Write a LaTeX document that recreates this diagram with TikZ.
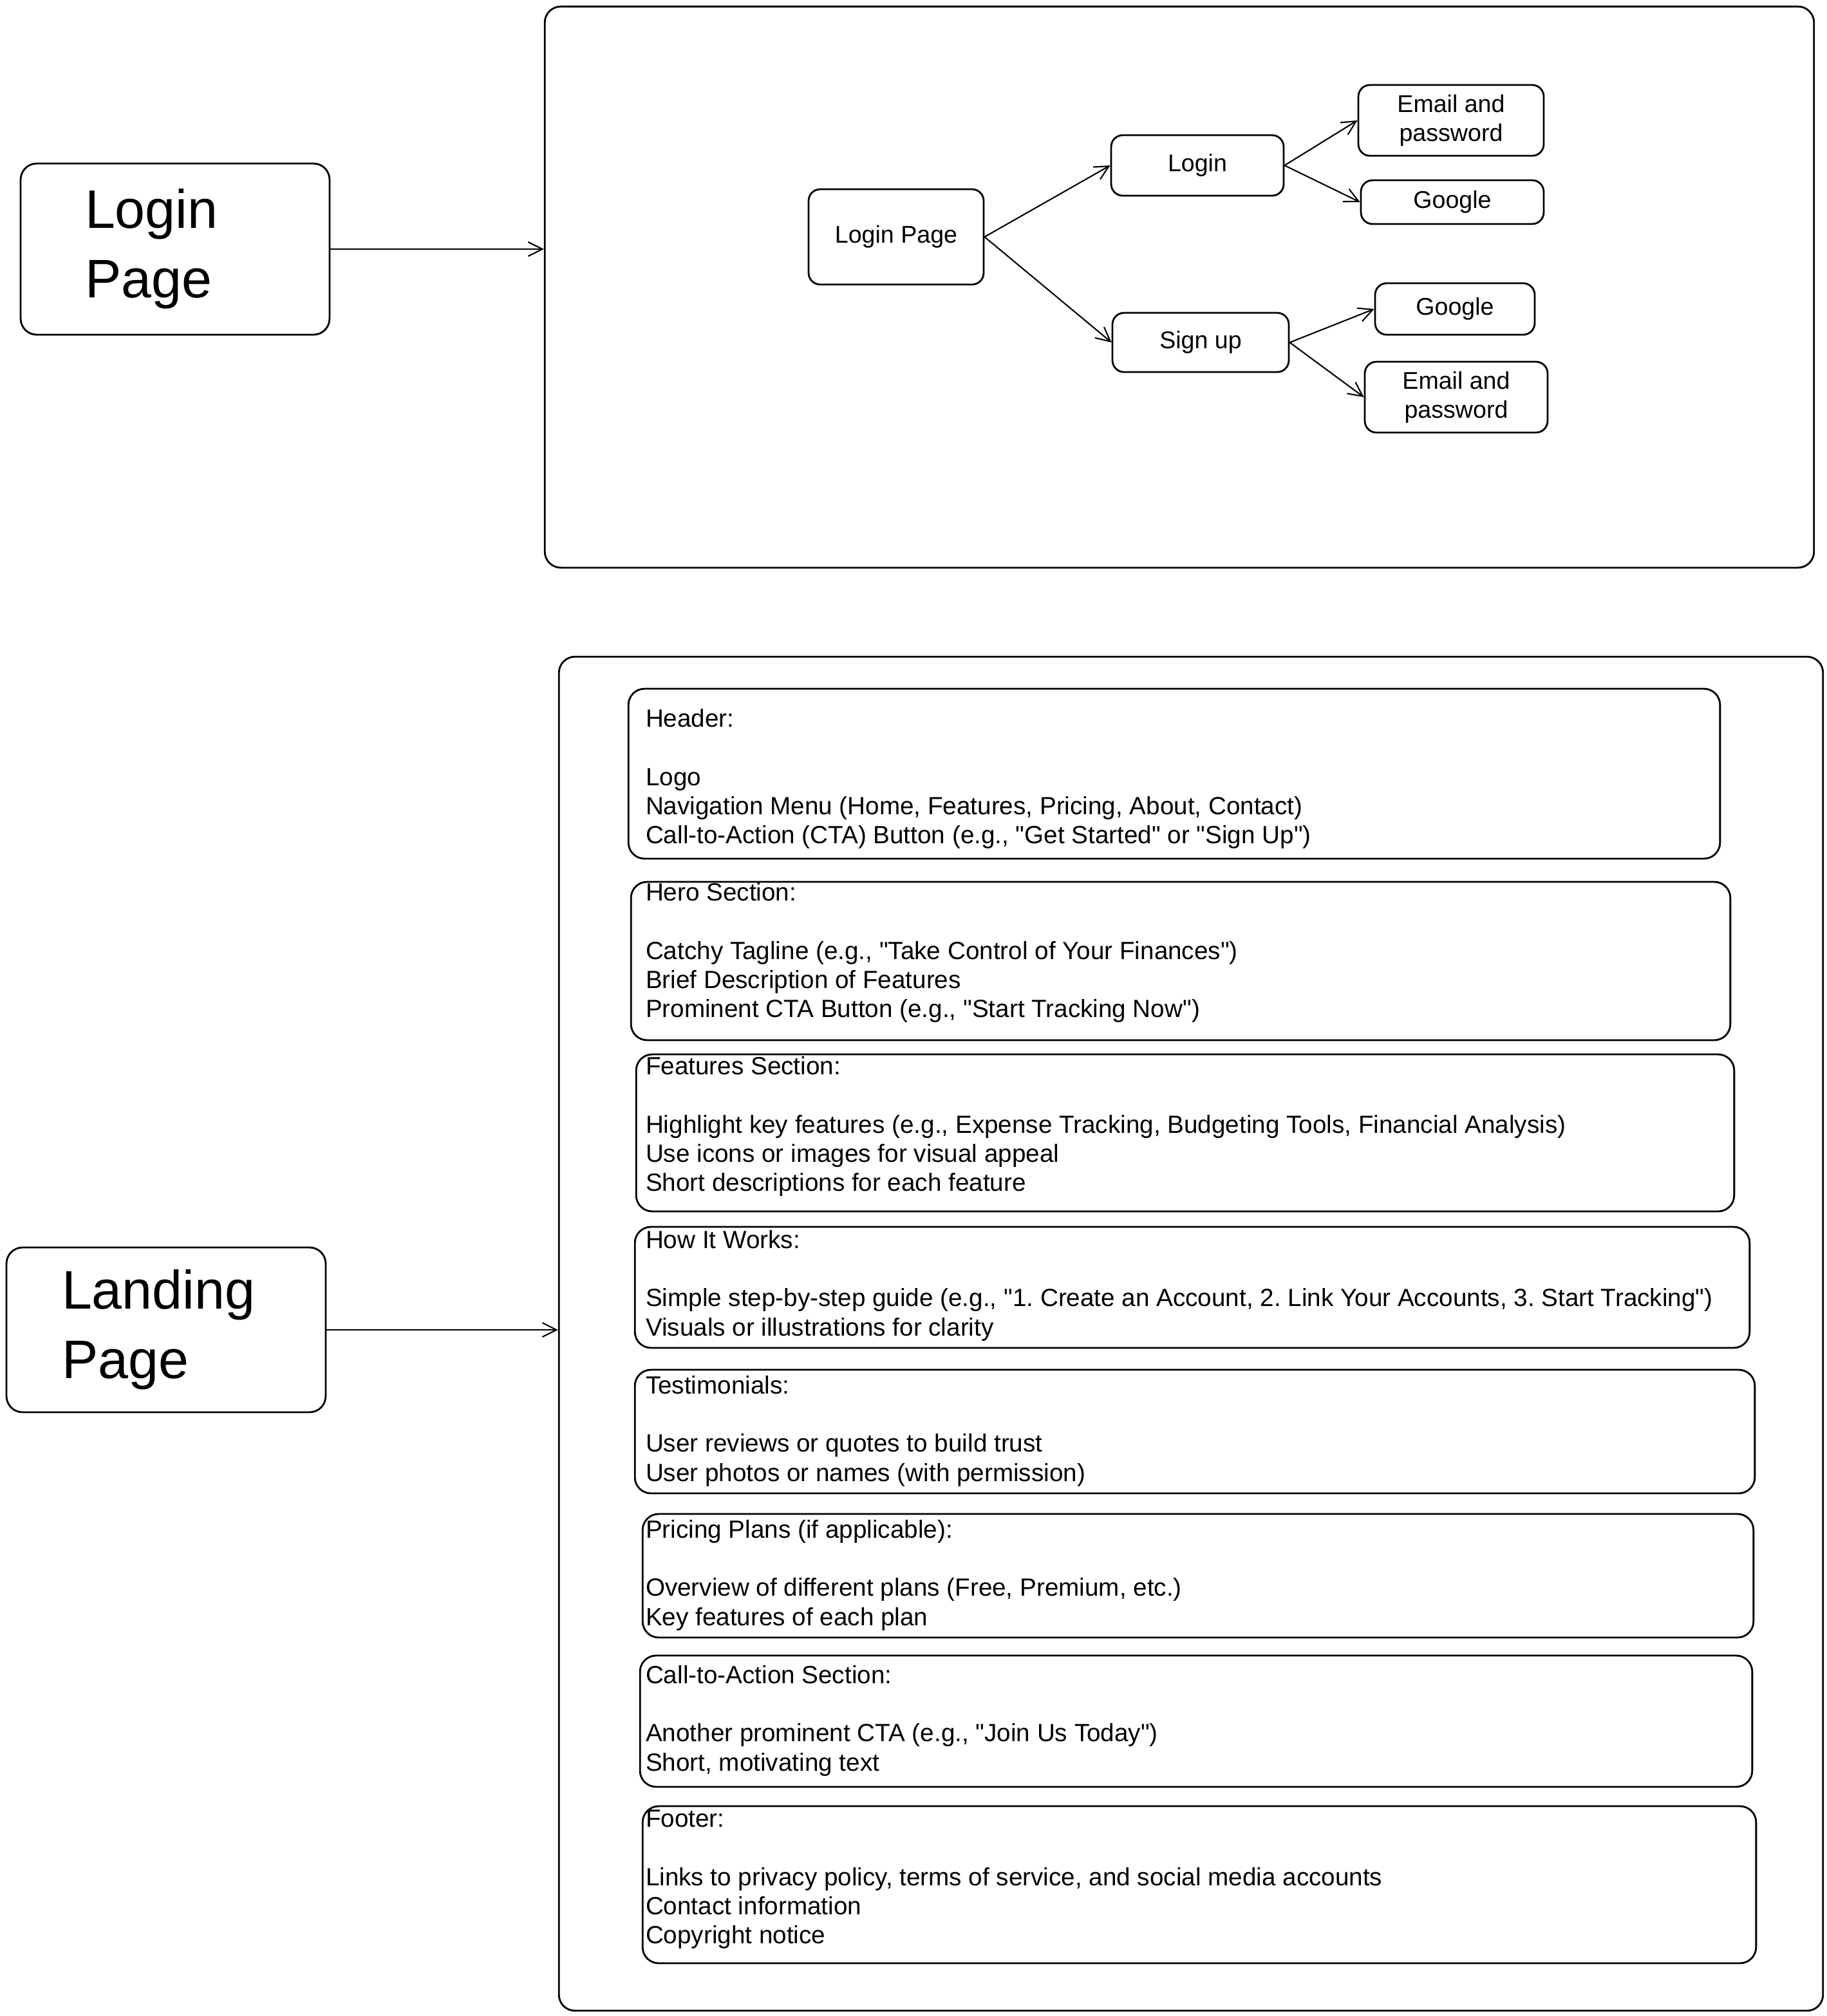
\documentclass[tikz,border=0pt]{standalone}
\usepackage{fontspec}
\setmainfont{Liberation Sans}[Ligatures=TeXOff]
\frenchspacing
\usetikzlibrary{arrows.meta}

\begin{document}
\begin{tikzpicture}[x=0.02cm, y=-0.02cm, font=\fontsize{10.7}{12.9}\selectfont, line width=0.6pt, -{Straight Barb[length=2.2mm,width=2.2mm]},
	box/.style={draw, line width=0.8pt, rounded corners=0.18cm, inner sep=0pt, align=center},
	frame/.style={draw, line width=0.8pt, rounded corners=0.25cm, inner sep=0pt},
	bigbox/.style={draw, line width=0.8pt, rounded corners=0.25cm, align=left, font=\fontsize{24}{30.7}\selectfont},
	section/.style={draw, line width=0.8pt, rounded corners=0.25cm, inner sep=0pt},
	sectext/.style={anchor=west, align=left, inner sep=0pt, font=\fontsize{11}{12.9}\selectfont}]
	\useasboundingbox (0,0) rectangle (1419,1566);
	\node[bigbox, minimum width=4.8cm, minimum height=2.66cm, text width=2.8cm, inner xsep=1cm] (loginpage) at (136,193.5) {Login\\Page};
	\node[bigbox, minimum width=4.96cm, minimum height=2.56cm, text width=3.24cm, inner xsep=0.86cm] (landingpage) at (129,1033) {Landing\\Page};
	\node[frame, minimum width=19.72cm, minimum height=8.72cm] (loginframe) at (916,223) {};
	\node[frame, minimum width=19.64cm, minimum height=21.04cm] (landingframe) at (925,1036) {};
	\draw (loginpage.east) -- (loginpage.east -| loginframe.west);
	\draw (landingpage.east) -- (landingpage.east -| landingframe.west);
	\node[box, minimum width=2.72cm, minimum height=1.48cm] (lpnode) at (696,184) {Login Page};
	\node[box, minimum width=2.68cm, minimum height=0.94cm] (login) at (930,128.5) {Login};
	\node[box, minimum width=2.74cm, minimum height=0.92cm] (signup) at (932.5,266) {Sign up};
	\node[box, minimum width=2.88cm, minimum height=1.1cm] (loginemail) at (1127,93.5) {Email and\\password};
	\node[box, minimum width=2.84cm, minimum height=0.68cm] (logingoogle) at (1128,157) {Google};
	\node[box, minimum width=2.48cm, minimum height=0.8cm] (signupgoogle) at (1130,240) {Google};
	\node[box, minimum width=2.84cm, minimum height=1.1cm] (signupemail) at (1131,308.5) {Email and\\password};
	\draw (lpnode.east) -- (login.west);
	\draw (lpnode.east) -- (signup.west);
	\draw (login.east) -- (loginemail.west);
	\draw (login.east) -- (logingoogle.west);
	\draw (signup.east) -- (signupgoogle.west);
	\draw (signup.east) -- (signupemail.west);
	\node[section, minimum width=16.96cm, minimum height=2.64cm] (header) at (912,601) {};
	\node[sectext] (headertext) at (501,605) {Header:\\[12.9pt]Logo\\Navigation Menu (Home, Features, Pricing, About, Contact)\\Call-to-Action (CTA) Button (e.g., "Get Started" or "Sign Up")};
	\node[section, minimum width=17.08cm, minimum height=2.46cm] (hero) at (917,746.5) {};
	\node[sectext] (herotext) at (501,740) {Hero Section:\\[12.9pt]Catchy Tagline (e.g., "Take Control of Your Finances")\\Brief Description of Features\\Prominent CTA Button (e.g., "Start Tracking Now")};
	\node[section, minimum width=17.06cm, minimum height=2.44cm] (features) at (920.5,880) {};
	\node[sectext] (featurestext) at (501,875) {Features Section:\\[12.9pt]Highlight key features (e.g., Expense Tracking, Budgeting Tools, Financial Analysis)\\Use icons or images for visual appeal\\Short descriptions for each feature};
	\node[section, minimum width=17.32cm, minimum height=1.88cm] (howitworks) at (926,1000) {};
	\node[sectext] (howitworkstext) at (501,998.5) {How It Works:\\[12.9pt]Simple step-by-step guide (e.g., "1. Create an Account, 2. Link Your Accounts, 3. Start Tracking")\\Visuals or illustrations for clarity};
	\node[section, minimum width=17.4cm, minimum height=1.92cm] (testimonials) at (928,1112) {};
	\node[sectext] (testimonialstext) at (501,1111.5) {Testimonials:\\[12.9pt]User reviews or quotes to build trust\\User photos or names (with permission)};
	\node[section, minimum width=17.26cm, minimum height=1.92cm] (pricing) at (930.5,1224) {};
	\node[sectext] (pricingtext) at (501,1223.5) {Pricing Plans (if applicable):\\[12.9pt]Overview of different plans (Free, Premium, etc.)\\Key features of each plan};
	\node[section, minimum width=17.28cm, minimum height=2.04cm] (cta) at (929,1337) {};
	\node[sectext] (ctatext) at (501,1336.5) {Call-to-Action Section:\\[12.9pt]Another prominent CTA (e.g., "Join Us Today")\\Short, motivating text};
	\node[section, minimum width=17.3cm, minimum height=2.44cm] (footer) at (931.5,1464) {};
	\node[sectext] (footertext) at (501,1460) {Footer:\\[12.9pt]Links to privacy policy, terms of service, and social media accounts\\Contact information\\Copyright notice};
\end{tikzpicture}
\end{document}
